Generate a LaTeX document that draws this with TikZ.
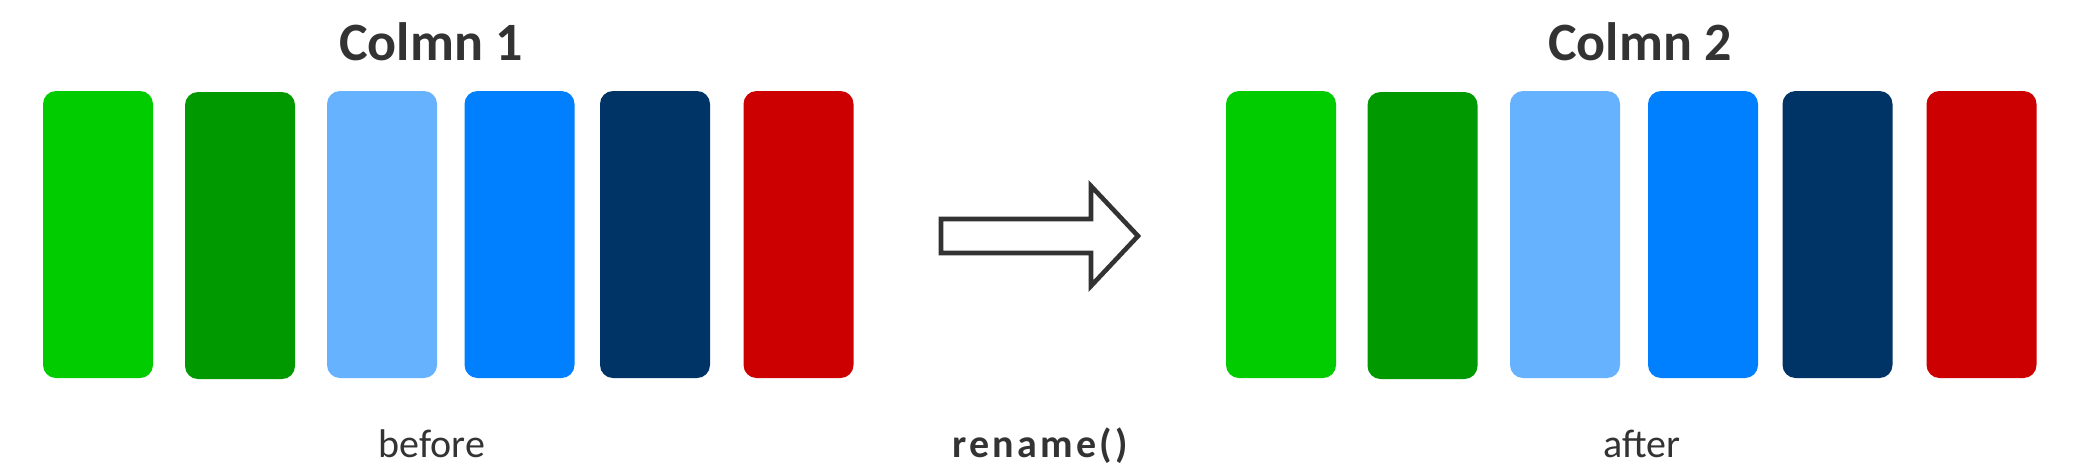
\documentclass[tikz,border=0pt]{standalone}
\usepackage{fontspec}
\setmainfont{Carlito}
\newfontfamily\spacedbold[LetterSpace=8]{Carlito}
\definecolor{txt}{HTML}{333333}
\definecolor{cA}{HTML}{00CC00}
\definecolor{cB}{HTML}{009900}
\definecolor{cC}{HTML}{66B2FF}
\definecolor{cD}{HTML}{0080FF}
\definecolor{cE}{HTML}{003366}
\definecolor{cF}{HTML}{CC0000}
\begin{document}
\begin{tikzpicture}[x=0.5pt,y=-0.5pt,
  bar/.style={fill=#1, draw=none, rounded corners=6.5pt, minimum width=55pt, minimum height=143.5pt, inner sep=0pt},
  title/.style={text=txt, font=\fontsize{27}{32}\selectfont\bfseries, anchor=base},
  caption/.style={text=txt, font=\fontsize{20}{24}\selectfont, anchor=base}]
\useasboundingbox (0,0) rectangle (2076,472);
% left bars
\node[bar=cA] (l1) at (98,234.5) {};
\node[bar=cB] (l2) at (240,235.5) {};
\node[bar=cC] (l3) at (382,234.5) {};
\node[bar=cD] (l4) at (519.5,234.5) {};
\node[bar=cE] (l5) at (655,234.5) {};
\node[bar=cF] (l6) at (798.5,234.5) {};
% right bars
\node[bar=cA] (r1) at (1281,234.5) {};
\node[bar=cB] (r2) at (1422.5,235.5) {};
\node[bar=cC] (r3) at (1565,234.5) {};
\node[bar=cD] (r4) at (1703,234.5) {};
\node[bar=cE] (r5) at (1837.5,234.5) {};
\node[bar=cF] (r6) at (1981.5,234.5) {};
% titles
\node[title] (t1) at (431,60) {Colmn 1};
\node[title] (t2) at (1640,60) {Colmn 2};
% captions
\node[caption] (c1) at (432,457) {before};
\node[caption, font=\fontsize{20}{24}\spacedbold\bfseries] (c2) at (1040,457) {rename()};
\node[caption] (c3) at (1642,457) {after};
% arrow
\draw[txt, line width=2.3pt, line join=miter, fill=white]
  (941,219) -- (1091,219) -- (1091,186) -- (1138,236) -- (1091,286) -- (1091,253) -- (941,253) -- cycle;
\end{tikzpicture}
\end{document}
